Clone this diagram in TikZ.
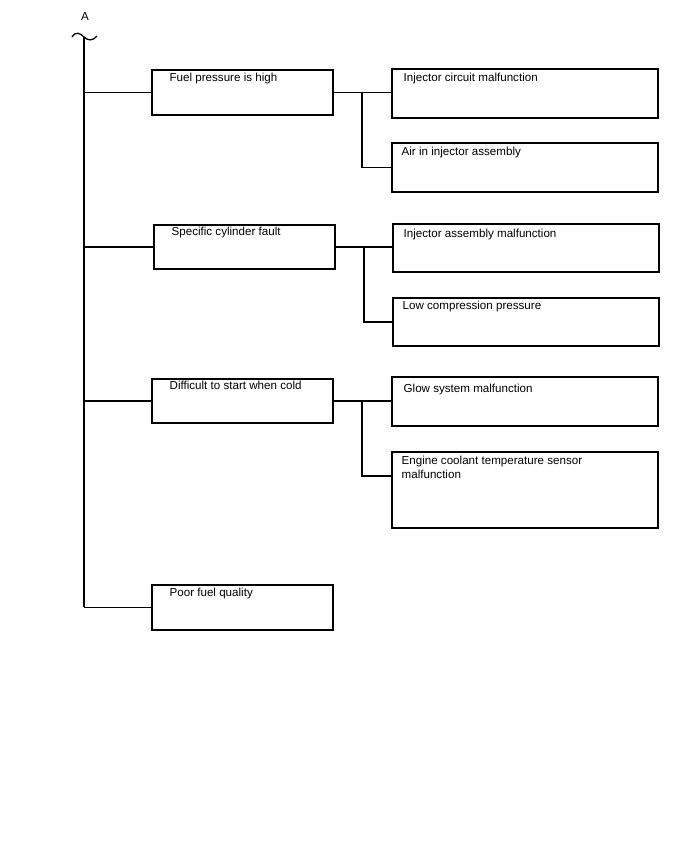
\documentclass[tikz,border=0pt]{standalone}
\usepackage{fontspec}
\setmainfont{Liberation Sans}
\begin{document}
\begin{tikzpicture}[x=1pt,y=-1pt,
  every path/.style={line width=1.3pt},
  box/.style={draw, line width=1.3pt, rectangle, inner sep=0pt, outer sep=0pt, anchor=north west},
  txt/.style={inner sep=0pt, anchor=base west, font=\fontsize{11.6}{14}\selectfont, align=left}]
\fill[white] (0,0) rectangle (688,852);
\useasboundingbox (0,0) rectangle (688,852);
% header
\node[txt, anchor=base] (lblA) at (85,20) {A};
\coordinate (top) at (84,37);
\coordinate (bot) at (84,607);
\draw (72,37) .. controls (76,31) and (80,33) .. (84,37) .. controls (88,41) and (93,41) .. (97,36);
\draw (top) -- (bot);
% left boxes
\node[box, minimum width=181, minimum height=45] (b1) at (152,70) {};
\node[txt] (t1) at (169,81) {Fuel pressure is high};
\node[box, minimum width=181, minimum height=44] (b2) at (154,225) {};
\node[txt] (t2) at (171,235) {Specific cylinder fault};
\node[box, minimum width=181, minimum height=44] (b3) at (152,379) {};
\node[txt] (t3) at (169,389) {Difficult to start when cold};
\node[box, minimum width=181, minimum height=45] (b4) at (152,585) {};
\node[txt] (t4) at (169,596) {Poor fuel quality};
% right boxes
\node[box, minimum width=266, minimum height=49] (r1) at (392,69) {};
\node[txt] (u1) at (403,81) {Injector circuit malfunction};
\node[box, minimum width=266, minimum height=49] (r2) at (392,143) {};
\node[txt] (u2) at (401,155) {Air in injector assembly};
\node[box, minimum width=266, minimum height=48] (r3) at (393,224) {};
\node[txt] (u3) at (403,237) {Injector assembly malfunction};
\node[box, minimum width=266, minimum height=48] (r4) at (393,298) {};
\node[txt] (u4) at (402,309) {Low compression pressure};
\node[box, minimum width=266, minimum height=49] (r5) at (392,377) {};
\node[txt] (u5) at (403,392) {Glow system malfunction};
\node[box, minimum width=266, minimum height=76] (r6) at (392,452) {};
\node[txt] (u6) at (401,478) {Engine coolant temperature sensor\\malfunction};
\coordinate (r6in) at ([yshift=-24pt]r6.north west);
% spine branches
\draw (b1.west) -- (b1.west -| top);
\draw (b2.west) -- (b2.west -| top);
\draw (b3.west) -- (b3.west -| top);
\draw (b4.west) -- (b4.west -| top);
% junctions
\coordinate (j1) at (362,93);
\coordinate (j2) at (364,248);
\coordinate (j3) at (362,401);
\draw (b1.east) -- (b1.east -| r1.west);
\draw (j1 |- b1.east) |- (r2.west);
\draw (b2.east) -- (b2.east -| r3.west);
\draw (j2 |- b2.east) |- (r4.west);
\draw (b3.east) -- (b3.east -| r5.west);
\draw (j3 |- b3.east) |- (r6in);
\end{tikzpicture}
\end{document}
